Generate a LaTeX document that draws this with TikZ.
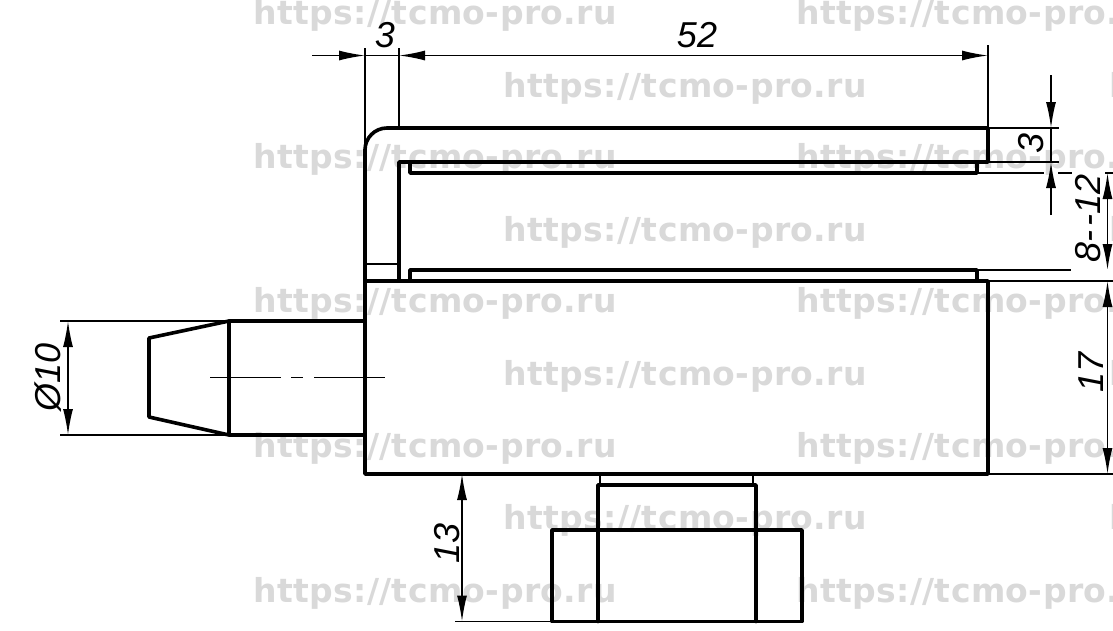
\documentclass[tikz,border=0pt]{standalone}
\usepackage{fontspec}
\usetikzlibrary{arrows.meta}
\setmainfont{Liberation Sans}
\newfontfamily\wmfont[LetterSpace=1.2]{DejaVu Sans}
\tikzset{
  thickline/.style={line width=3.6pt,line cap=round,line join=round,black},
  thinline/.style={line width=1.5pt,black},
  tipend/.tip={Latex[length=26pt,width=10pt]},
  dimline/.style={thinline,tipend-tipend},
  dimtext/.style={font=\itshape\fontsize{36}{36}\selectfont,inner sep=0pt,black},
  wm/.style={font=\wmfont\bfseries\fontsize{33}{33}\selectfont,text=black!15,inner sep=0pt,anchor=base west},
}
\begin{document}
\begin{tikzpicture}[x=1pt,y=-1pt]
\useasboundingbox (0,0) rectangle (1113,630);
\clip (0,0) rectangle (1113,630);
\fill[white] (0,0) rectangle (1113,630);
% watermarks
\foreach \yy/\n in {24/a,168/b,312/c,457/d,602/e}{
  \node[wm] (wl\n) at (253,\yy) {https://tcmo-pro.ru};
  \node[wm] (wr\n) at (796,\yy) {https://tcmo-pro.ru};
}
\foreach \yy/\n in {97/f,241/g,385/h,529/i}{
  \node[wm] (wm\n) at (503,\yy) {https://tcmo-pro.ru};
  \node[wm] (we\n) at (1109,\yy) {h};
}
% body
\draw[thickline] (365,150) arc[start angle=180,end angle=270,radius=22] -- (988,128) -- (988,162) -- (399,162) -- (399,281);
\draw[thickline] (365,150) -- (365,474) -- (988,474) -- (988,281) -- (365,281);
\draw[thickline] (410,162) -- (410,173) -- (977,173) -- (977,162);
\draw[thickline] (410,281) -- (410,270) -- (977,270) -- (977,281);
\draw[line width=2.2pt] (365,264) -- (399,264);
% shaft
\draw[thickline] (365,321) -- (229,321) -- (229,435) -- (365,435);
\draw[thickline] (229,321) -- (149,338) -- (149,417) -- (229,435);
\draw[thinline] (210,377.5) -- (281,377.5) (291,377.5) -- (303,377.5) (314,377.5) -- (385,377.5);
% bottom part
\draw[line width=2.6pt] (600,474) -- (600,485) (753,474) -- (753,485);
\draw[thickline] (598,530) -- (598,485) -- (756,485) -- (756,530);
\draw[thickline] (552,530) rectangle (802,621.5);
\draw[thickline] (598,530) -- (598,621.5) (756,530) -- (756,621.5);
% extension lines
\draw[thinline] (365,48) -- (365,150) (399,48) -- (399,128) (988,45) -- (988,128);
\draw[thinline] (988,128) -- (1059,128) (988,162) -- (1059,162);
\draw[thinline] (977,173) -- (1044,173) (1058,173) -- (1072,173) (1105,173) -- (1113,173);
\draw[thinline] (977,270) -- (1071,270) (988,281) -- (1113,281) (988,474) -- (1113,474);
\draw[thinline] (60,321) -- (229,321) (60,435) -- (229,435);
\draw[thinline] (455,621.5) -- (552,621.5);
% dimensions
\draw[thinline,-tipend] (312,55.5) -- (365,55.5);
\draw[thinline] (365,55.5) -- (399,55.5);
\draw[thinline,tipend-tipend] (399,55.5) -- (988,55.5);
\draw[thinline,-tipend] (1051,75) -- (1051,128);
\draw[thinline,-tipend] (1051,215) -- (1051,162);
\draw[thinline] (1051,128) -- (1051,162);
\draw[dimline] (1107.5,173) -- (1107.5,270);
\draw[dimline] (1107.5,281) -- (1107.5,474);
\draw[dimline] (68,321) -- (68,435);
\draw[dimline] (462,474) -- (462,621.5);
% texts
\node[dimtext] (t3a) at (385,35) {3};
\node[dimtext] (t52) at (697,35) {52};
\node[dimtext,rotate=90] (t3b) at (1031,143) {3};
\node[dimtext,rotate=90] (t812) at (1088,218) {8-\kern4pt-12};
\node[dimtext,rotate=90] (t17) at (1091,372) {17};
\node[dimtext,rotate=90] (t10) at (48,377) {Ø10};
\node[dimtext,rotate=90] (t13) at (447,543) {13};
\end{tikzpicture}
\end{document}
